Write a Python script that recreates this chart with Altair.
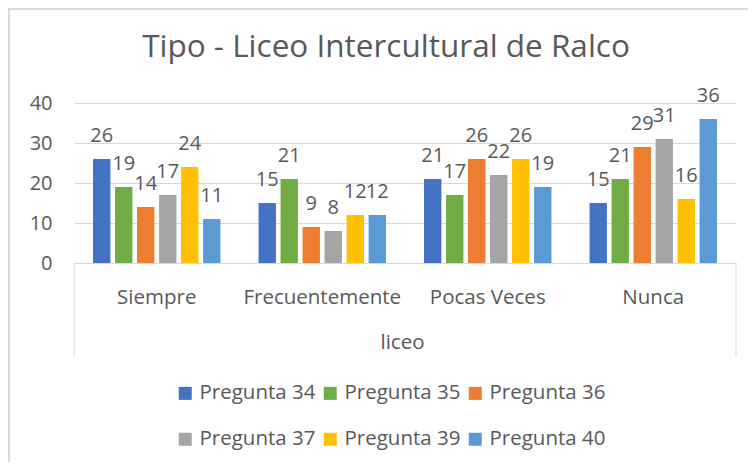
import altair as alt
import pandas as pd

categories = ["Siempre", "Frecuentemente", "Pocas Veces", "Nunca"]
series = ["Pregunta 34", "Pregunta 35", "Pregunta 36", "Pregunta 37", "Pregunta 39", "Pregunta 40"]
p34 = [26, 15, 21, 15]
p35 = [19, 21, 17, 21]
p36 = [14, 9, 26, 29]
p37 = [17, 8, 22, 31]
p39 = [24, 12, 26, 16]
p40 = [11, 12, 19, 36]
colors = ["#4472C4", "#70AD47", "#ED7D31", "#A5A5A5", "#FFC000", "#5B9BD5"]
y_ticks = [0, 10, 20, 30, 40]
title_text = "Tipo - Liceo Intercultural de Ralco"

rows = []
for s, vals in zip(series, [p34, p35, p36, p37, p39, p40]):
    for c, v in zip(categories, vals):
        rows.append({"cat": c, "serie": s, "valor": v})
df = pd.DataFrame(rows)

FONT = "Open Sans"
TXT = "#595959"
GRID = "#D9D9D9"

x_enc = alt.X(
    "cat:N", sort=categories,
    scale=alt.Scale(paddingInner=0.23, paddingOuter=0.115),
    axis=alt.Axis(
        title="liceo", labelAngle=0, ticks=False, tickSize=0, labelPadding=40,
        labelBaseline="alphabetic", labelFontSize=20.5, labelFont=FONT, labelColor=TXT,
        domainColor=GRID, domainWidth=1,
        titleFontSize=20.5, titleFont=FONT, titleColor=TXT, titleFontWeight="normal",
        titleX=328, titleY=85, titleBaseline="alphabetic",
    ),
)
xoff = alt.XOffset("serie:N", sort=series, scale=alt.Scale(paddingInner=0.21, paddingOuter=0))
y_axis = alt.Axis(
    title=None, values=y_ticks, tickCount=5, domain=False, ticks=False, tickSize=0, labelPadding=22,
    labelFontSize=20, labelFont=FONT, labelColor=TXT, gridColor=GRID, gridWidth=1,
    labelOverlap=False,
)
y_enc = alt.Y("valor:Q", scale=alt.Scale(domain=[0, 40], nice=False), axis=y_axis)
color_enc = alt.Color(
    "serie:N", sort=series,
    scale=alt.Scale(domain=series, range=colors),
    legend=alt.Legend(
        title=None, orient="none", legendX=101, legendY=280, columns=3, direction="horizontal",
        symbolType="square", symbolSize=169, symbolStrokeWidth=0,
        labelFontSize=20.5, labelFont=FONT, labelColor=TXT, labelOffset=4,
        columnPadding=4, rowPadding=25, padding=0, labelLimit=250,
    ),
)

base = alt.Chart(df)
bars = base.mark_bar().encode(x=x_enc, xOffset=xoff, y=y_enc, color=color_enc)
labels = base.mark_text(dy=-17, baseline="alphabetic", fontSize=20, font=FONT, color=TXT).encode(
    x=x_enc, xOffset=xoff, y=y_enc, text="valor:Q"
)

one = pd.DataFrame({"t": [title_text]})
title_mark = alt.Chart(one).mark_text(
    fontSize=31.5, font=FONT, color=TXT, baseline="alphabetic", align="center"
).encode(x=alt.value(312), y=alt.value(-46), text="t:N")
left_tick = alt.Chart(one).mark_rule(color=GRID, strokeWidth=1).encode(
    x=alt.value(0), y=alt.value(160), y2=alt.value(254))
right_tick = alt.Chart(one).mark_rule(color=GRID, strokeWidth=1).encode(
    x=alt.value(662), y=alt.value(160), y2=alt.value(254))
frame_top = alt.Chart(one).mark_rule(color=GRID, strokeWidth=2).encode(
    x=alt.value(-65), x2=alt.value(680), y=alt.value(-94))
frame_left = alt.Chart(one).mark_rule(color=GRID, strokeWidth=2).encode(
    x=alt.value(-65), y=alt.value(-95), y2=alt.value(360))

chart = alt.layer(bars, labels, title_mark, left_tick, right_tick, frame_top, frame_left).properties(
    width=662, height=160,
    autosize=alt.AutoSizeParams(type="none"),
    padding={"left": 66, "top": 95, "right": 12, "bottom": 199},
).configure_view(strokeWidth=0)

chart.save("out.html", embed_options={"renderer": "svg", "actions": False})
